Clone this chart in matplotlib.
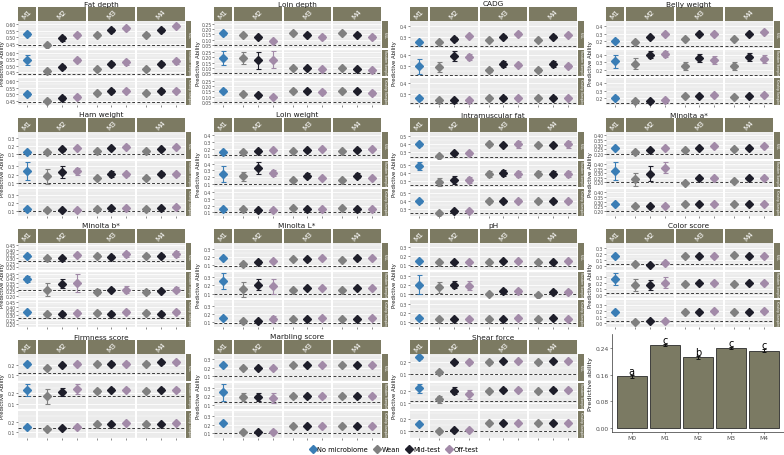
import matplotlib
matplotlib.use("Agg")
import matplotlib.pyplot as plt
from matplotlib.lines import Line2D
import numpy as np

plt.rcParams['font.family'] = ['DejaVu Sans']

# ---------------- data ----------------
groups = ["M1", "M2", "M3", "M4"]
time_points = ["No microbiome", "Wean", "Mid-test", "Off-test"]
schemes = ["FULL", "Random Sampling", "Kinship Sampling"]
traits = ["Fat depth", "Loin depth", "CADG", "Belly weight",
          "Ham weight", "Loin weight", "Intramuscular fat", "Minolta a*",
          "Minolta b*", "Minolta L*", "pH", "Color score",
          "Firmness score", "Marbling score", "Shear force"]
# each row: [M1, M2 wean, M2 mid, M2 off, M3 wean, M3 mid, M3 off, M4 wean, M4 mid, M4 off]
pa_fat_depth = [[0.527, 0.44, 0.49, 0.52, 0.52, 0.556, 0.568, 0.52, 0.556, 0.59],
                [0.545, 0.46, 0.49, 0.545, 0.47, 0.516, 0.525, 0.47, 0.516, 0.533],
                [0.50, 0.446, 0.467, 0.475, 0.507, 0.527, 0.527, 0.507, 0.527, 0.527]]
err_fat_depth = [[0.015, 0.012, 0.02, 0.012, 0.015, 0.015, 0.012, 0.015, 0.018, 0.015],
                 [0.04, 0.012, 0.015, 0.015, 0.012, 0.012, 0.02, 0.012, 0.015, 0.02],
                 [0.015, 0.012, 0.015, 0.015, 0.012, 0.015, 0.012, 0.012, 0.015, 0.012]]
m0_fat_depth = [0.44, 0.438, 0.438]

pa_loin_depth = [[0.16, 0.14, 0.12, 0.09, 0.16, 0.145, 0.125, 0.16, 0.145, 0.125],
                 [0.195, 0.195, 0.173, 0.18, 0.102, 0.102, 0.09, 0.10, 0.09, 0.08],
                 [0.155, 0.127, 0.11, 0.096, 0.155, 0.155, 0.14, 0.155, 0.155, 0.13]]
err_loin_depth = [[0.015, 0.01, 0.015, 0.01, 0.01, 0.015, 0.02, 0.01, 0.015, 0.02],
                  [0.065, 0.06, 0.08, 0.08, 0.01, 0.012, 0.01, 0.01, 0.01, 0.01],
                  [0.015, 0.01, 0.012, 0.01, 0.015, 0.015, 0.02, 0.015, 0.015, 0.02]]
m0_loin_depth = [0.05, 0.05, 0.05]

pa_cadg = [[0.255, 0.255, 0.283, 0.314, 0.272, 0.303, 0.334, 0.272, 0.303, 0.324],
           [0.293, 0.286, 0.39, 0.38, 0.26, 0.317, 0.307, 0.26, 0.317, 0.297],
           [0.259, 0.241, 0.245, 0.241, 0.266, 0.266, 0.266, 0.266, 0.266, 0.266]]
err_cadg = [[0.01, 0.01, 0.015, 0.01, 0.01, 0.015, 0.01, 0.01, 0.015, 0.01],
            [0.067, 0.05, 0.05, 0.03, 0.02, 0.03, 0.015, 0.02, 0.03, 0.02],
            [0.012, 0.01, 0.012, 0.01, 0.01, 0.012, 0.01, 0.01, 0.012, 0.01]]
m0_cadg = [0.214, 0.214, 0.214]

pa_belly = [[0.209, 0.187, 0.258, 0.30, 0.231, 0.30, 0.30, 0.231, 0.30, 0.322],
            [0.31, 0.28, 0.40, 0.41, 0.253, 0.355, 0.33, 0.253, 0.364, 0.34],
            [0.21, 0.165, 0.165, 0.173, 0.227, 0.227, 0.24, 0.218, 0.227, 0.24]]
err_belly = [[0.02, 0.015, 0.015, 0.015, 0.015, 0.015, 0.015, 0.015, 0.015, 0.015],
             [0.08, 0.07, 0.04, 0.04, 0.05, 0.05, 0.05, 0.05, 0.05, 0.05],
             [0.015, 0.012, 0.012, 0.015, 0.015, 0.015, 0.015, 0.015, 0.015, 0.015]]
m0_belly = [0.135, 0.135, 0.14]

pa_ham = [[0.127, 0.127, 0.16, 0.177, 0.143, 0.177, 0.193, 0.143, 0.167, 0.187],
          [0.247, 0.18, 0.23, 0.24, 0.163, 0.207, 0.203, 0.163, 0.207, 0.203],
          [0.133, 0.117, 0.117, 0.117, 0.127, 0.143, 0.143, 0.127, 0.143, 0.153]]
err_ham = [[0.012, 0.01, 0.015, 0.015, 0.012, 0.015, 0.015, 0.012, 0.015, 0.015],
           [0.11, 0.09, 0.07, 0.045, 0.012, 0.04, 0.015, 0.012, 0.03, 0.015],
           [0.012, 0.01, 0.012, 0.012, 0.012, 0.012, 0.015, 0.012, 0.012, 0.015]]
m0_ham = [0.1, 0.1, 0.1]

pa_loin_wt = [[0.15, 0.155, 0.17, 0.175, 0.17, 0.175, 0.2, 0.165, 0.185, 0.2],
              [0.25, 0.21, 0.34, 0.26, 0.15, 0.22, 0.18, 0.15, 0.22, 0.18],
              [0.15, 0.15, 0.13, 0.14, 0.17, 0.15, 0.15, 0.16, 0.15, 0.15]]
err_loin_wt = [[0.015, 0.012, 0.02, 0.015, 0.012, 0.02, 0.015, 0.012, 0.02, 0.015],
               [0.12, 0.07, 0.09, 0.04, 0.015, 0.04, 0.015, 0.015, 0.04, 0.015],
               [0.015, 0.012, 0.012, 0.012, 0.015, 0.012, 0.012, 0.015, 0.015, 0.012]]
m0_loin_wt = [0.1, 0.1, 0.1]

pa_imf = [[0.40, 0.255, 0.29, 0.29, 0.40, 0.39, 0.40, 0.39, 0.39, 0.40],
          [0.49, 0.29, 0.31, 0.31, 0.39, 0.40, 0.39, 0.39, 0.39, 0.39],
          [0.40, 0.26, 0.28, 0.28, 0.40, 0.40, 0.41, 0.40, 0.40, 0.40]]
err_imf = [[0.015, 0.015, 0.02, 0.02, 0.02, 0.015, 0.04, 0.015, 0.015, 0.04],
           [0.05, 0.05, 0.05, 0.04, 0.04, 0.04, 0.04, 0.03, 0.03, 0.04],
           [0.015, 0.012, 0.015, 0.015, 0.015, 0.015, 0.02, 0.015, 0.015, 0.015]]
m0_imf = [0.248, 0.25, 0.25]

pa_a = [[0.26, 0.215, 0.24, 0.26, 0.24, 0.26, 0.28, 0.25, 0.26, 0.28],
        [0.325, 0.23, 0.294, 0.358, 0.192, 0.25, 0.25, 0.21, 0.25, 0.25],
        [0.27, 0.25, 0.25, 0.25, 0.27, 0.27, 0.27, 0.27, 0.27, 0.27]]
err_a = [[0.01, 0.008, 0.01, 0.01, 0.008, 0.01, 0.01, 0.008, 0.01, 0.01],
         [0.10, 0.07, 0.08, 0.06, 0.01, 0.01, 0.01, 0.01, 0.01, 0.01],
         [0.01, 0.008, 0.008, 0.008, 0.008, 0.008, 0.008, 0.008, 0.008, 0.008]]
m0_a = [0.20, 0.20, 0.20]

pa_b = [[0.33, 0.305, 0.305, 0.336, 0.33, 0.32, 0.346, 0.33, 0.33, 0.346],
        [0.39, 0.27, 0.337, 0.347, 0.245, 0.27, 0.27, 0.24, 0.255, 0.27],
        [0.335, 0.32, 0.32, 0.33, 0.33, 0.32, 0.34, 0.33, 0.32, 0.34]]
err_b = [[0.015, 0.012, 0.015, 0.02, 0.015, 0.015, 0.03, 0.015, 0.015, 0.035],
         [0.03, 0.07, 0.05, 0.10, 0.03, 0.015, 0.04, 0.015, 0.015, 0.03],
         [0.015, 0.012, 0.015, 0.015, 0.015, 0.015, 0.02, 0.015, 0.015, 0.02]]
m0_b = [0.27, 0.27, 0.27]

pa_l = [[0.18, 0.11, 0.135, 0.15, 0.17, 0.17, 0.18, 0.16, 0.18, 0.18],
        [0.255, 0.15, 0.21, 0.19, 0.145, 0.165, 0.165, 0.145, 0.165, 0.165],
        [0.15, 0.115, 0.11, 0.14, 0.14, 0.14, 0.15, 0.14, 0.14, 0.15]]
err_l = [[0.012, 0.01, 0.025, 0.015, 0.012, 0.015, 0.012, 0.012, 0.015, 0.012],
         [0.10, 0.09, 0.07, 0.09, 0.012, 0.015, 0.015, 0.012, 0.015, 0.015],
         [0.012, 0.01, 0.012, 0.03, 0.012, 0.012, 0.012, 0.012, 0.012, 0.012]]
m0_l = [0.09, 0.09, 0.085]

pa_ph = [[0.15, 0.13, 0.14, 0.14, 0.14, 0.15, 0.15, 0.14, 0.14, 0.15],
         [0.20, 0.17, 0.20, 0.19, 0.09, 0.13, 0.13, 0.085, 0.12, 0.12],
         [0.15, 0.13, 0.14, 0.14, 0.14, 0.14, 0.15, 0.14, 0.15, 0.14]]
err_ph = [[0.01, 0.01, 0.01, 0.01, 0.01, 0.01, 0.01, 0.01, 0.01, 0.01],
          [0.11, 0.06, 0.04, 0.055, 0.01, 0.02, 0.02, 0.01, 0.02, 0.02],
          [0.01, 0.01, 0.01, 0.01, 0.01, 0.01, 0.01, 0.01, 0.01, 0.01]]
m0_ph = [0.09, 0.09, 0.09]

pa_color = [[0.18, 0.04, 0.02, 0.06, 0.18, 0.18, 0.18, 0.19, 0.17, 0.18],
            [0.27, 0.16, 0.16, 0.20, 0.18, 0.19, 0.19, 0.18, 0.19, 0.19],
            [0.19, 0.02, 0.04, 0.04, 0.19, 0.19, 0.20, 0.19, 0.19, 0.20]]
err_color = [[0.015, 0.012, 0.012, 0.015, 0.012, 0.012, 0.012, 0.012, 0.012, 0.012],
             [0.10, 0.10, 0.08, 0.09, 0.015, 0.015, 0.015, 0.015, 0.015, 0.015],
             [0.015, 0.012, 0.012, 0.012, 0.012, 0.012, 0.012, 0.012, 0.012, 0.012]]
m0_color = [0.04, 0.04, 0.04]

pa_firm = [[0.21, 0.17, 0.20, 0.21, 0.21, 0.21, 0.21, 0.21, 0.22, 0.22],
           [0.23, 0.17, 0.21, 0.24, 0.22, 0.23, 0.23, 0.22, 0.23, 0.23],
           [0.15, 0.13, 0.14, 0.15, 0.18, 0.18, 0.19, 0.18, 0.18, 0.19]]
err_firm = [[0.01, 0.01, 0.01, 0.01, 0.01, 0.01, 0.01, 0.01, 0.01, 0.01],
            [0.06, 0.07, 0.04, 0.05, 0.015, 0.015, 0.015, 0.015, 0.015, 0.02],
            [0.01, 0.01, 0.01, 0.01, 0.01, 0.01, 0.01, 0.01, 0.01, 0.01]]
m0_firm = [0.12, 0.17, 0.14]

pa_marb = [[0.23, 0.20, 0.20, 0.20, 0.23, 0.23, 0.23, 0.23, 0.23, 0.23],
           [0.25, 0.19, 0.19, 0.18, 0.20, 0.20, 0.20, 0.20, 0.20, 0.20],
           [0.22, 0.12, 0.12, 0.12, 0.19, 0.19, 0.19, 0.19, 0.19, 0.19]]
err_marb = [[0.012, 0.01, 0.01, 0.01, 0.01, 0.01, 0.01, 0.01, 0.01, 0.01],
            [0.10, 0.05, 0.05, 0.06, 0.015, 0.015, 0.015, 0.015, 0.015, 0.015],
            [0.012, 0.01, 0.01, 0.02, 0.01, 0.01, 0.01, 0.01, 0.01, 0.01]]
m0_marb = [0.10, 0.13, 0.10]

pa_shear = [[0.24, 0.12, 0.20, 0.20, 0.20, 0.21, 0.21, 0.20, 0.21, 0.21],
            [0.22, 0.13, 0.20, 0.17, 0.20, 0.21, 0.21, 0.20, 0.21, 0.21],
            [0.16, 0.10, 0.11, 0.11, 0.17, 0.17, 0.17, 0.17, 0.17, 0.17]]
err_shear = [[0.01, 0.01, 0.01, 0.01, 0.01, 0.01, 0.01, 0.01, 0.01, 0.01],
             [0.04, 0.03, 0.03, 0.04, 0.01, 0.01, 0.01, 0.01, 0.01, 0.01],
             [0.01, 0.01, 0.01, 0.01, 0.01, 0.01, 0.01, 0.01, 0.01, 0.01]]
m0_shear = [0.10, 0.12, 0.10]

yticks_list = [[0.40, 0.45, 0.50, 0.55, 0.60], [0.05, 0.10, 0.15, 0.20, 0.25],
               [0.2, 0.3, 0.4], [0.2, 0.3, 0.4],
               [0.1, 0.2, 0.3], [0.1, 0.2, 0.3, 0.4], [0.3, 0.4, 0.5],
               [0.20, 0.25, 0.30, 0.35, 0.40],
               [0.20, 0.25, 0.30, 0.35, 0.40, 0.45], [0.1, 0.2, 0.3], [0.1, 0.2, 0.3],
               [0.0, 0.1, 0.2, 0.3], [0.1, 0.2, 0.3], [0.1, 0.2, 0.3], [0.1, 0.2, 0.3]]
ytick_fmt = ["%.2f", "%.2f", "%.1f", "%.1f", "%.1f", "%.1f", "%.1f", "%.2f",
             "%.2f", "%.1f", "%.1f", "%.1f", "%.1f", "%.1f", "%.1f"]

all_pa = [pa_fat_depth, pa_loin_depth, pa_cadg, pa_belly, pa_ham, pa_loin_wt, pa_imf,
          pa_a, pa_b, pa_l, pa_ph, pa_color, pa_firm, pa_marb, pa_shear]
all_err = [err_fat_depth, err_loin_depth, err_cadg, err_belly, err_ham, err_loin_wt, err_imf,
           err_a, err_b, err_l, err_ph, err_color, err_firm, err_marb, err_shear]
all_m0 = [m0_fat_depth, m0_loin_depth, m0_cadg, m0_belly, m0_ham, m0_loin_wt, m0_imf,
          m0_a, m0_b, m0_l, m0_ph, m0_color, m0_firm, m0_marb, m0_shear]

# summary bar chart
models = ["M0", "M1", "M2", "M3", "M4"]
bar_pa = [0.1555, 0.2496, 0.2126, 0.2406, 0.2326]
bar_err = [0.005, 0.004, 0.004, 0.004, 0.004]
bar_letters = ["a", "c", "b", "c", "c"]

# ---------------- style ----------------
point_colors = ["#3A7DB5", "#808080", "#1E1E2A", "#A28AA8"]
strip_color = "#7C7A62"
panel_bg = "#EBEBEB"
point_group = [0, 1, 1, 1, 2, 2, 2, 3, 3, 3]
point_tp = [0, 1, 2, 3, 1, 2, 3, 1, 2, 3]

W, H = 784, 456
fig = plt.figure(figsize=(W / 100, H / 100), dpi=100)


def ax_px(x, y, w, h):
    return fig.add_axes([x / W, 1 - (y + h) / H, w / W, h / H])


def draw_panel(i):
    pa, err, m0 = all_pa[i], all_err[i], all_m0[i]
    col, row = i % 4, i // 4
    x0, y0 = 196 * col, 111 * row
    lows = [v - e for r in range(3) for v, e in zip(pa[r], err[r])] + list(m0)
    highs = [v + e for r in range(3) for v, e in zip(pa[r], err[r])] + list(m0)
    lo, hi = min(lows), max(highs)
    pad = 0.05 * (hi - lo)
    ylim = (lo - pad, hi + pad)

    left = x0 + 18
    gap = 2.0
    unit = (167 - 3 * gap) / 10.8
    ws = [1.2 * unit, 3.2 * unit, 3.2 * unit, 3.2 * unit]
    xs = [left]
    for w in ws[:-1]:
        xs.append(xs[-1] + w + gap)
    right_end = xs[-1] + ws[-1]
    rh = 26.5
    top = y0 + 22

    # title
    fig.text((x0 + 101) / W, 1 - (y0 + 4.5) / H, traits[i], ha="center", va="center",
             fontsize=5.3, color="#1a1a1a")
    # y label
    fig.text((x0 + 2.6) / W, 1 - (top + 1.5 * rh + 2) / H, "Predictive Ability", rotation=90,
             ha="center", va="center", fontsize=3.9, color="#1a1a1a")
    # top strips
    for g in range(4):
        sa = ax_px(xs[g], y0 + 8, ws[g], 13.5)
        sa.set_facecolor(strip_color)
        sa.set_xticks([]); sa.set_yticks([])
        for s in sa.spines.values():
            s.set_visible(False)
        sa.text(0.5, 0.5, groups[g], rotation=45, ha="center", va="center",
                color="white", fontsize=5.2, transform=sa.transAxes)

    for r in range(3):
        ytop = top + r * (rh + 2)
        for g in range(4):
            ax = ax_px(xs[g], ytop, ws[g], rh)
            ax.set_facecolor(panel_bg)
            for s in ax.spines.values():
                s.set_visible(False)
            n = 1 if g == 0 else 3
            ax.set_xlim(-0.6, n - 1 + 0.6)
            ax.set_ylim(*ylim)
            yt = [t for t in yticks_list[i] if ylim[0] <= t <= ylim[1]]
            ax.set_yticks(yt)
            step = yticks_list[i][1] - yticks_list[i][0]
            mids = [t + step / 2 for t in [yt[0] - step] + yt]
            ax.set_yticks(mids, minor=True)
            ax.grid(axis="y", which="major", color="white", lw=0.6)
            ax.grid(axis="y", which="minor", color="white", lw=0.3)
            ax.set_axisbelow(True)
            if g == 0:
                ax.set_yticklabels([ytick_fmt[i] % t for t in yt])
                ax.tick_params(axis="y", which="major", length=1.2, width=0.4, color="#333333",
                               labelsize=3.3, labelcolor="#4d4d4d", pad=0.6)
            else:
                ax.tick_params(axis="y", which="major", length=0, labelleft=False)
            ax.tick_params(axis="y", which="minor", length=0)
            if r == 2:
                ax.set_xticks(range(n))
                ax.tick_params(axis="x", length=1.5, width=0.4, color="#333333",
                               labelbottom=False)
            else:
                ax.set_xticks([])
            ax.axhline(m0[r], color="#3a3a3a", lw=0.7, ls=(0, (3, 2)), zorder=1)
            for k in range(10):
                if point_group[k] != g:
                    continue
                xpos = 0 if g == 0 else point_tp[k] - 1
                c = point_colors[point_tp[k]]
                ax.errorbar(xpos, pa[r][k], yerr=err[r][k], fmt="D", color=c, ms=4.3,
                            mec=c, ecolor=c, elinewidth=0.8, capsize=1.8, capthick=0.8,
                            zorder=3)
        # right strip
        sa = ax_px(right_end + 1, ytop, 5.5, rh)
        sa.set_facecolor(strip_color)
        sa.set_xticks([]); sa.set_yticks([])
        for s in sa.spines.values():
            s.set_visible(False)
        sa.text(0.5, 0.5, schemes[r], rotation=-90, ha="center", va="center",
                color="white", fontsize=2.2, transform=sa.transAxes)


for i in range(len(traits)):
    draw_panel(i)

# legend
handles = [Line2D([], [], marker="D", ls="", color=c, ms=4.3) for c in point_colors]
fig.legend(handles, time_points, loc="center", bbox_to_anchor=(394 / W, 1 - 450.5 / H),
           ncol=4, frameon=False, fontsize=4.8, handlelength=1.0, handletextpad=0.2,
           columnspacing=0.8, borderpad=0.1)

# bar chart
bx = ax_px(612, 335, 172, 98)
xpos = np.arange(len(models))
bx.bar(xpos, bar_pa, width=0.9, color="#7B7A63", edgecolor="#2b2b2b", linewidth=0.6, zorder=2)
bx.errorbar(xpos, bar_pa, yerr=bar_err, fmt="none", ecolor="#111111", elinewidth=0.7,
            capsize=1.5, capthick=0.7, zorder=3)
for xp, v, e, lt in zip(xpos, bar_pa, bar_err, bar_letters):
    bx.text(xp, v + e - 0.003, lt, ha="center", va="bottom", fontsize=7, color="black")
bx.set_xlim(-0.6, len(models) - 0.4)
bx.set_ylim(-0.012, 0.283)
bx.set_yticks([0.0, 0.08, 0.16, 0.24])
bx.set_yticklabels(["0.00", "0.08", "0.16", "0.24"])
bx.set_xticks(xpos)
bx.set_xticklabels(models)
bx.tick_params(axis="both", length=1.5, width=0.4, color="#333333", labelsize=4.3,
               labelcolor="#4d4d4d", pad=1)
bx.spines["top"].set_visible(False)
bx.spines["right"].set_visible(False)
for s in ["left", "bottom"]:
    bx.spines[s].set_linewidth(0.5)
    bx.spines[s].set_color("#333333")
bx.set_ylabel("Predictive ability", fontsize=4.6, labelpad=1.5, color="#1a1a1a")

fig.savefig("out.png", dpi=100)
